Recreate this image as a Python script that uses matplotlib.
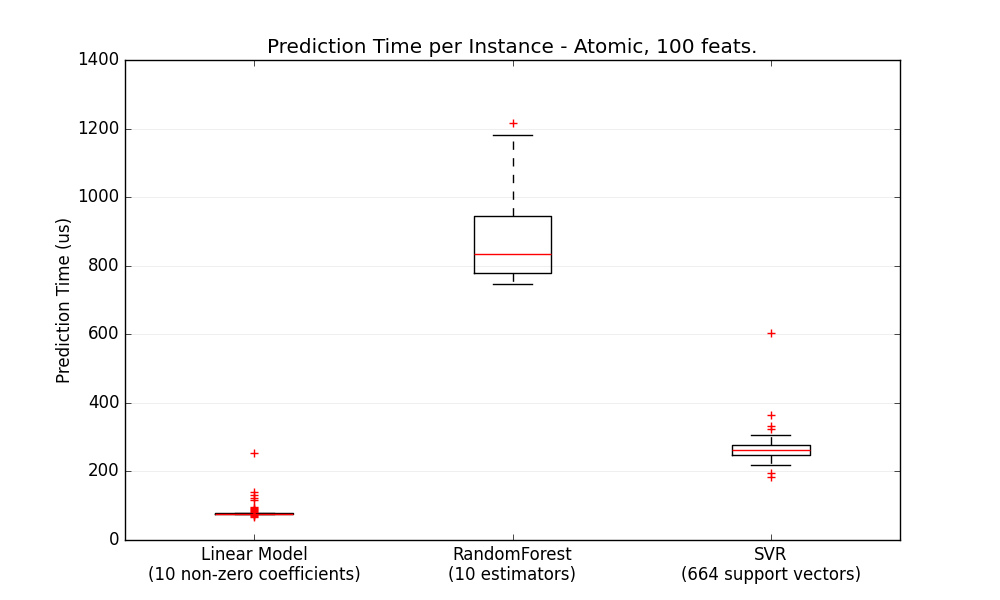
import matplotlib.pyplot as plt
import numpy as np

plt.style.use('classic')

labels = ['Linear Model\n(10 non-zero coefficients)',
          'RandomForest\n(10 estimators)',
          'SVR\n(664 support vectors)']
medians = [77, 834, 262]
q1s = [76, 778, 249]
q3s = [78, 944, 277]
whislo = [75, 748, 218]
whishi = [79, 1181, 305]
fliers = [
    [254, 139, 131, 123, 117, 97, 93, 90, 87, 85, 83, 72, 70, 68],
    [1217],
    [603, 364, 333, 324, 195, 185],
]

stats = []
for i in range(len(labels)):
    stats.append(dict(med=medians[i], q1=q1s[i], q3=q3s[i],
                      whislo=whislo[i], whishi=whishi[i],
                      fliers=fliers[i], label=labels[i]))

fig = plt.figure(figsize=(10, 6), dpi=100)
ax1 = fig.add_subplot(111)
bp = ax1.bxp(stats, widths=0.3)
plt.setp(bp['boxes'], color='black')
plt.setp(bp['whiskers'], color='black', linestyle='--')
plt.setp(bp['caps'], color='black')
plt.setp(bp['medians'], color='red')
plt.setp(bp['fliers'], color='red', marker='+', markeredgecolor='red',
         markersize=6)

ax1.yaxis.grid(True, linestyle='-', which='major', color='lightgrey', alpha=0.5)
ax1.set_axisbelow(True)
ax1.set_ylim(0, 1400)
ax1.set_title('Prediction Time per Instance - Atomic, 100 feats.')
ax1.set_ylabel('Prediction Time (us)', labelpad=2)

fig.savefig('out.png', dpi=100)
